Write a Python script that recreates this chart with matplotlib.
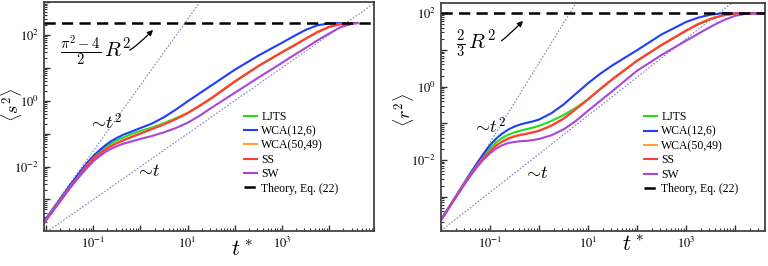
import numpy as np
import matplotlib.pyplot as plt
from matplotlib.ticker import LogLocator, FuncFormatter, NullFormatter

plt.rcParams['font.family'] = ['Liberation Serif', 'DejaVu Serif']
plt.rcParams['mathtext.fontset'] = 'stix'

labels = ["LJTS", "WCA(12,6)", "WCA(50,49)", "SS", "SW"]
colors = ["#22dd22", "#1f3dff", "#ffa234", "#ff3b3b", "#a845dc"]

# left panel <s^2>, values read as log10
s_logt = [-2.05, -1.75, -1.5, -1.375, -1.25, -1.125, -1.0, -0.875, -0.75, -0.625, -0.5,
          -0.375, -0.25, -0.125, 0.0, 0.25, 0.5, 0.75, 1.0, 1.25, 1.5, 2.0, 2.5, 3.0,
          3.25, 3.5, 3.75, 4.0, 4.25, 4.5, 4.6]
s_ljts = [-3.70, -3.11, -2.62, -2.38, -2.15, -1.93, -1.73, -1.56, -1.42, -1.30, -1.20,
          -1.12, -1.05, -0.98, -0.92, -0.81, -0.68, -0.53, -0.37, -0.16, 0.07, 0.58, 1.05,
          1.47, 1.67, 1.88, 2.08, 2.24, 2.33, 2.36, 2.36]
s_wca126 = [-3.68, -3.08, -2.58, -2.34, -2.10, -1.88, -1.68, -1.51, -1.36, -1.23, -1.13,
            -1.04, -0.97, -0.90, -0.83, -0.69, -0.50, -0.27, -0.02, 0.22, 0.46, 0.94, 1.37,
            1.76, 1.96, 2.15, 2.29, 2.35, 2.36, 2.36, 2.36]
s_wca5049 = [-3.71, -3.12, -2.64, -2.41, -2.19, -1.95, -1.76, -1.61, -1.48, -1.37, -1.28,
             -1.20, -1.13, -1.06, -0.99, -0.85, -0.71, -0.55, -0.37, -0.15, 0.08, 0.59, 1.06,
             1.48, 1.68, 1.89, 2.09, 2.25, 2.34, 2.36, 2.36]
s_ss = [-3.72, -3.13, -2.65, -2.42, -2.20, -1.96, -1.77, -1.62, -1.49, -1.38, -1.29,
        -1.21, -1.14, -1.07, -1.00, -0.86, -0.72, -0.56, -0.38, -0.16, 0.07, 0.58, 1.05,
        1.47, 1.67, 1.88, 2.08, 2.24, 2.33, 2.36, 2.36]
s_sw = [-3.73, -3.15, -2.67, -2.44, -2.23, -2.03, -1.84, -1.69, -1.56, -1.46, -1.38,
        -1.31, -1.26, -1.21, -1.16, -1.07, -0.96, -0.83, -0.67, -0.46, -0.22, 0.24, 0.70,
        1.15, 1.38, 1.60, 1.83, 2.04, 2.24, 2.34, 2.36]
s_theory = 230.0

# right panel <r^2>, values read as log10
r_logt = [-2.0, -1.75, -1.5, -1.375, -1.25, -1.125, -1.0, -0.875, -0.75, -0.625, -0.5,
          -0.375, -0.25, -0.125, 0.0, 0.25, 0.5, 0.75, 1.0, 1.25, 1.5, 2.0, 2.5, 3.0,
          3.25, 3.5, 3.75, 4.0, 4.25, 4.5, 4.62]
r_ljts = [-3.64, -3.11, -2.59, -2.34, -2.10, -1.88, -1.69, -1.52, -1.40, -1.31, -1.25,
          -1.20, -1.16, -1.12, -1.07, -0.94, -0.78, -0.58, -0.35, -0.07, 0.20, 0.70, 1.13,
          1.52, 1.70, 1.84, 1.94, 1.99, 2.0, 2.0, 2.0]
r_wca126 = [-3.63, -3.10, -2.57, -2.31, -2.06, -1.82, -1.60, -1.42, -1.28, -1.17, -1.09,
            -1.03, -0.99, -0.95, -0.90, -0.73, -0.49, -0.20, 0.09, 0.35, 0.58, 0.99, 1.42,
            1.76, 1.88, 1.96, 2.0, 2.0, 2.0, 2.0, 2.0]
r_wca5049 = [-3.64, -3.12, -2.60, -2.36, -2.13, -1.92, -1.75, -1.60, -1.49, -1.41, -1.35,
             -1.31, -1.28, -1.24, -1.20, -1.06, -0.87, -0.61, -0.34, -0.06, 0.21, 0.71, 1.14,
             1.53, 1.71, 1.85, 1.95, 1.99, 2.0, 2.0, 2.0]
r_ss = [-3.64, -3.12, -2.61, -2.37, -2.14, -1.93, -1.76, -1.61, -1.50, -1.42, -1.36,
        -1.32, -1.29, -1.25, -1.21, -1.07, -0.88, -0.62, -0.35, -0.07, 0.20, 0.70, 1.13,
        1.52, 1.70, 1.84, 1.94, 1.99, 2.0, 2.0, 2.0]
r_sw = [-3.65, -3.13, -2.63, -2.39, -2.17, -1.98, -1.82, -1.69, -1.60, -1.54, -1.51,
        -1.49, -1.48, -1.46, -1.43, -1.33, -1.17, -0.94, -0.66, -0.39, -0.12, 0.43, 0.86,
        1.25, 1.44, 1.63, 1.80, 1.93, 1.99, 2.0, 2.0]
r_theory = 100.0

# guide lines ~t^2 and ~t (endpoints)
s_guide_t2 = ([0.009, 20.0], [2.4e-4, 1200.0])
s_guide_t = ([0.009, 1.0e5], [9.0e-5, 1000.0])
r_guide_t2 = ([0.01, 7.94], [2.04e-4, 389.0])
r_guide_t = ([0.01, 1.26e4], [1.17e-4, 282.0])

fig = plt.figure(figsize=(7.68, 2.66), dpi=100)
ax1 = fig.add_axes([44/768, 35/266, 330/768, 229/266])
ax2 = fig.add_axes([441/768, 35/266, 324/768, 228/266])


def fmt_odd(v, pos):
    e = int(round(np.log10(v)))
    return r'$10^{%d}$' % e if e % 2 else ''


def fmt_even(v, pos):
    e = int(round(np.log10(v)))
    return '' if e % 2 else r'$10^{%d}$' % e


def draw(ax, logt, series, theory, g2, g1, xlim, ylim):
    t = 10.0 ** np.array(logt)
    ax.plot(g2[0], g2[1], color="#7a86b8", lw=0.8, ls=(0, (1.5, 1.5)))
    ax.plot(g1[0], g1[1], color="#7a86b8", lw=0.8, ls=(0, (1.5, 1.5)))
    for vals, c, lab in zip(series, colors, labels):
        ax.plot(t, 10.0 ** np.array(vals), color=c, lw=1.5, label=lab)
    ax.axhline(theory, color="black", lw=1.8, ls=(0, (4.5, 2.5)), zorder=5,
               label="Theory, Eq. (22)")
    ax.set_xscale("log")
    ax.set_yscale("log")
    ax.set_xlim(*xlim)
    ax.set_ylim(*ylim)
    ax.xaxis.set_major_locator(LogLocator(base=10, numticks=20))
    ax.yaxis.set_major_locator(LogLocator(base=10, numticks=20))
    ax.xaxis.set_minor_locator(LogLocator(base=10, subs=np.arange(2, 10), numticks=20))
    ax.yaxis.set_minor_locator(LogLocator(base=10, subs=np.arange(2, 10), numticks=20))
    ax.xaxis.set_major_formatter(FuncFormatter(fmt_odd))
    ax.yaxis.set_major_formatter(FuncFormatter(fmt_even))
    ax.xaxis.set_minor_formatter(NullFormatter())
    ax.yaxis.set_minor_formatter(NullFormatter())
    ax.tick_params(which="both", direction="in", labelsize=9, colors="#333333",
                   labelcolor="black")
    ax.tick_params(which="major", length=4, width=1)
    ax.tick_params(which="minor", length=2.2, width=0.8)
    for sp in ax.spines.values():
        sp.set_color("#444444")
        sp.set_linewidth(1.3)


draw(ax1, s_logt, [s_ljts, s_wca126, s_wca5049, s_ss, s_sw], s_theory,
     s_guide_t2, s_guide_t, (0.009, 9.0e4), (1.1e-4, 1.0e3))
draw(ax2, r_logt, [r_ljts, r_wca126, r_wca5049, r_ss, r_sw], r_theory,
     r_guide_t2, r_guide_t, (0.01, 4.1e4), (1.15e-4, 1.9e2))

for ax, anchor in [(ax1, (0.58, 0.561)), (ax2, (0.60, 0.561))]:
    ax.legend(loc="upper left", bbox_to_anchor=anchor, frameon=False, fontsize=8.5,
              handlelength=1.15, handletextpad=0.35, labelspacing=0.2, borderpad=0.2)

# annotations
ax1.text(0.05, 0.786, r'$\frac{\pi^2-4}{2}\,R^2$', transform=ax1.transAxes,
         fontsize=15, math_fontfamily='cm', va='center')
ax1.annotate('', xy=(155/768, 1 - 28/266), xycoords='figure fraction',
             xytext=(127/768, 1 - 51/266), textcoords='figure fraction',
             arrowprops=dict(arrowstyle='-|>', color='black', lw=0.9,
                             mutation_scale=8, connectionstyle='angle3,angleA=0,angleB=45'))
ax2.text(0.045, 0.822, r'$\frac{2}{3}\,R^2$', transform=ax2.transAxes,
         fontsize=15, math_fontfamily='cm', va='center')
ax2.annotate('', xy=(525/768, 1 - 19/266), xycoords='figure fraction',
             xytext=(499/768, 1 - 42/266), textcoords='figure fraction',
             arrowprops=dict(arrowstyle='-|>', color='black', lw=0.9,
                             mutation_scale=8, connectionstyle='angle3,angleA=0,angleB=45'))

fig.text(105/768, 1 - 123/266, r'$\sim\!t^2$', fontsize=13, math_fontfamily='cm',
         ha='center', va='center')
fig.text(148/768, 1 - 172/266, r'$\sim\!t$', fontsize=13, math_fontfamily='cm',
         ha='center', va='center')
fig.text(489/768, 1 - 127/266, r'$\sim\!t^2$', fontsize=13, math_fontfamily='cm',
         ha='center', va='center')
fig.text(536/768, 1 - 174/266, r'$\sim\!t$', fontsize=13, math_fontfamily='cm',
         ha='center', va='center')

fig.text(12/768, 1 - 105/266, r'$\langle s^2\rangle$', fontsize=13, math_fontfamily='cm',
         rotation=90, ha='center', va='center')
fig.text(403/768, 1 - 110/266, r'$\langle r^2\rangle$', fontsize=13, math_fontfamily='cm',
         rotation=90, ha='center', va='center')
fig.text(242/768, 1 - 251/266, r'$t^*$', fontsize=16, math_fontfamily='cm',
         ha='center', va='center')
fig.text(633/768, 1 - 246/266, r'$t^*$', fontsize=16, math_fontfamily='cm',
         ha='center', va='center')

fig.savefig("out.png", dpi=100)
